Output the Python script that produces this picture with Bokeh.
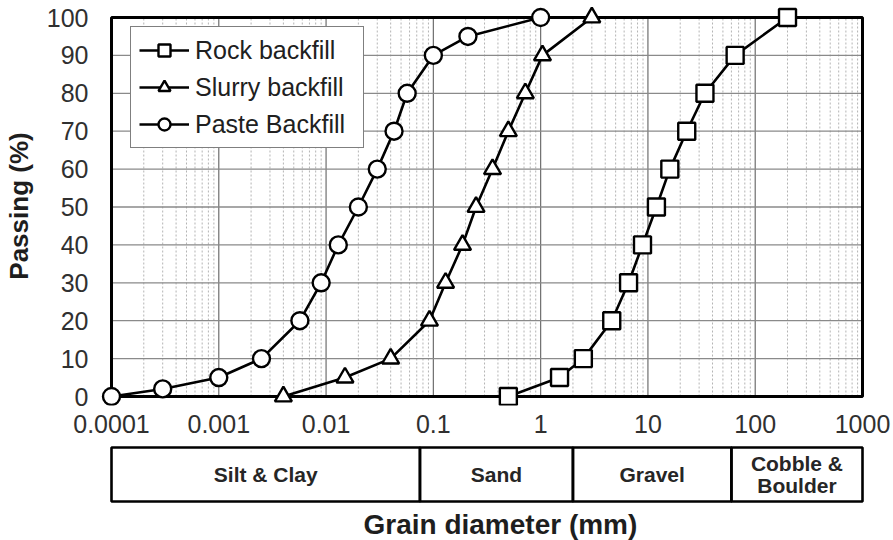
import math
from bokeh.plotting import figure
from bokeh.layouts import column
from bokeh.models import (Range1d, FixedTicker, NumeralTickFormatter, Legend,
                          LegendItem)
from bokeh.core.properties import value
from bokeh.embed import file_html
from bokeh.resources import INLINE

# Grain-size distribution curves (diameter in mm, percent passing)
rock_d = [0.5, 1.5, 2.5, 4.6, 6.6, 8.9, 12.0, 16.0, 23.0, 34.0, 65.0, 200.0]
rock_p = [0, 5, 10, 20, 30, 40, 50, 60, 70, 80, 90, 100]

slurry_d = [0.004, 0.015, 0.04, 0.092, 0.13, 0.187, 0.25, 0.356, 0.5, 0.72, 1.04, 3.0]
slurry_p = [0, 5, 10, 20, 30, 40, 50, 60, 70, 80, 90, 100]

paste_d = [0.0001, 0.0003, 0.001, 0.0025, 0.0057, 0.009, 0.013, 0.02, 0.03,
           0.043, 0.057, 0.1, 0.21, 1.0]
paste_p = [0, 2, 5, 10, 20, 30, 40, 50, 60, 70, 80, 90, 95, 100]

# Axis ticks
x_decades = [0.0001, 0.001, 0.01, 0.1, 1, 10, 100, 1000]
x_labels = ["0.0001", "0.001", "0.01", "0.1", "1", "10", "100", "1000"]
y_ticks = [0, 10, 20, 30, 40, 50, 60, 70, 80, 90, 100]

# Soil classes along the diameter axis
class_bounds = [0.0001, 0.075, 2, 60, 1000]
class_names = ["Silt & Clay", "Sand", "Gravel", "Cobble &\nBoulder"]

FONT = "Liberation Sans"
W = 893
LEFT, RIGHT = 100, 20          # outer borders of both panels
PAD_X, PAD_TOP, PAD_BOT = 11, 11, 9   # room for markers around the box
PX_PER_DECADE = (W - LEFT - RIGHT - 2 * PAD_X) / 7.0
PX_PER_PCT = (405 - 6 - PAD_TOP - PAD_BOT) / 100.0

x_lo = x_decades[0] * 10 ** (-PAD_X / PX_PER_DECADE)
x_hi = x_decades[-1] * 10 ** (PAD_X / PX_PER_DECADE)
x_range = Range1d(x_lo, x_hi)
y_range = Range1d(-PAD_BOT / PX_PER_PCT, 100 + PAD_TOP / PX_PER_PCT)

p = figure(width=W, height=440, x_axis_type="log", x_range=x_range,
           y_range=y_range, output_backend="svg", toolbar_location=None,
           min_border_left=LEFT, min_border_right=RIGHT, min_border_top=6,
           min_border_bottom=35)
p.outline_line_color = None
p.xgrid.visible = False
p.ygrid.visible = False
p.background_fill_color = "white"
p.border_fill_color = "white"

# Grid lines, kept inside the box
minor_x = [d * m for d in x_decades[:-1] for m in range(2, 10)]
major_x = x_decades[1:-1]
p.segment(x0=minor_x, y0=0, x1=minor_x, y1=100, line_color="#b4b4b4",
          line_width=1, line_dash="2 2")
p.segment(x0=major_x, y0=0, x1=major_x, y1=100, line_color="#6e6e6e",
          line_width=1.2)
inner_y = y_ticks[1:-1]
p.segment(x0=x_decades[0], y0=inner_y, x1=x_decades[-1], y1=inner_y,
          line_color="#8a8a8a", line_width=1.3)
p.quad(left=x_decades[0], right=x_decades[-1], bottom=y_ticks[0],
       top=y_ticks[-1], fill_color=None, line_color="black", line_width=3)

# Axes
p.xaxis.ticker = FixedTicker(ticks=x_decades, minor_ticks=[])
p.xaxis.formatter = NumeralTickFormatter(format="0.[0000]")
p.xaxis.major_label_overrides = dict(zip(x_decades, x_labels))
p.yaxis.ticker = FixedTicker(ticks=y_ticks, minor_ticks=[])
for ax in (p.xaxis[0], p.yaxis[0]):
    ax.axis_line_color = None
    ax.major_tick_line_color = None
    ax.minor_tick_line_color = None
    ax.major_tick_out = 0
    ax.major_tick_in = 0
    ax.major_label_text_font = FONT
    ax.major_label_text_font_size = "25px"
    ax.major_label_text_color = "#303030"
p.xaxis.major_label_standoff = 9
p.yaxis.major_label_standoff = 12
p.yaxis.axis_label = "Passing (%)"
p.yaxis.axis_label_text_font = FONT
p.yaxis.axis_label_text_font_size = "26px"
p.yaxis.axis_label_text_font_style = "bold"
p.yaxis.axis_label_text_color = "#1e1e1e"
p.yaxis.axis_label_standoff = 10

# Curves
style = dict(line_color="black", line_width=2.6)
mstyle = dict(size=17, fill_color="white", line_color="black", line_width=2.4)
r_rock_l = p.line(rock_d, rock_p, **style)
r_rock_m = p.scatter(rock_d, rock_p, marker="square", **mstyle)
r_slur_l = p.line(slurry_d, slurry_p, **style)
r_slur_m = p.scatter(slurry_d, slurry_p, marker="triangle", **mstyle)
r_past_l = p.line(paste_d, paste_p, **style)
r_past_m = p.scatter(paste_d, paste_p, marker="circle", **mstyle)

legend = Legend(items=[
    LegendItem(label="Rock backfill", renderers=[r_rock_l, r_rock_m]),
    LegendItem(label="Slurry backfill", renderers=[r_slur_l, r_slur_m]),
    LegendItem(label="Paste Backfill", renderers=[r_past_l, r_past_m]),
], location=(30, 257))
legend.border_line_color = "black"
legend.border_line_width = 1.6
legend.background_fill_color = "white"
legend.background_fill_alpha = 1
legend.padding = 8
legend.spacing = 7
legend.margin = 0
legend.label_height = 30
legend.glyph_height = 30
legend.glyph_width = 50
legend.label_standoff = 6
legend.label_width = 160
legend.label_text_font = FONT
legend.label_text_font_size = "25px"
legend.label_text_color = "#202020"
p.add_layout(legend)

# Class bar and axis title beneath the chart
q = figure(width=W, height=100, x_axis_type="log", x_range=x_range,
           y_range=Range1d(100, 0), output_backend="svg",
           toolbar_location=None, x_axis_location=None, y_axis_location=None,
           min_border_left=LEFT, min_border_right=RIGHT, min_border_top=0,
           min_border_bottom=0)
q.outline_line_color = None
q.xgrid.visible = False
q.ygrid.visible = False
q.quad(left=class_bounds[:-1], right=class_bounds[1:], top=7, bottom=61,
       fill_color=None, line_color="black", line_width=2.6)
centers = [math.sqrt(a * b) for a, b in zip(class_bounds[:-1], class_bounds[1:])]
q.text(x=centers, y=[34] * len(centers), text=class_names,
       text_font=value(FONT), text_font_style="bold", text_font_size="21px",
       text_align="center", text_baseline="middle", text_color="#262626",
       text_line_height=0.95)
q.text(x=[10 ** -0.375], y=[84], text=["Grain diameter (mm)"],
       text_font=value(FONT), text_font_style="bold", text_font_size="28px",
       text_align="center", text_baseline="middle", text_color="#1e1e1e")

layout = column(p, q, spacing=0)
open("out.html", "w").write(file_html(layout, INLINE))
